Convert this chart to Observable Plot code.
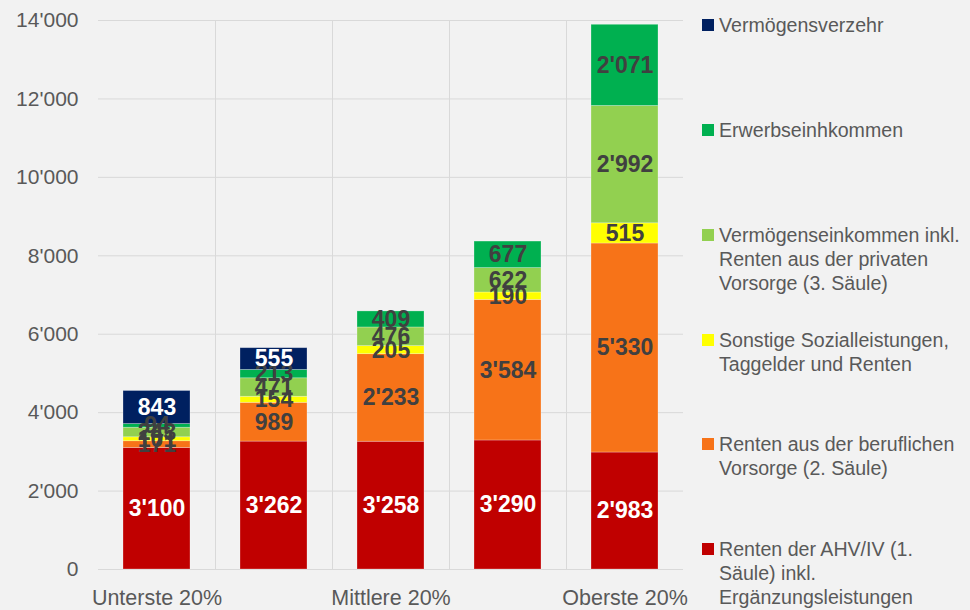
<!DOCTYPE html>
<html>
<head>
<meta charset="utf-8">
<script src="https://cdn.jsdelivr.net/npm/d3@7"></script>
<script src="https://cdn.jsdelivr.net/npm/@observablehq/plot@0.6"></script>
<style>
  html, body { margin: 0; padding: 0; background: #f2f2f2; }
  #wrap { position: relative; width: 970px; height: 610px; background: #f2f2f2; font-family: "Liberation Sans", Arial, Helvetica, sans-serif; }
  #chart { position: absolute; left: 0; top: 0; }
  .leg { position: absolute; left: 702px; color: #595959; font-size: 19.6px; line-height: 24px; white-space: nowrap; }
  .leg .sw { position: absolute; left: 0; top: 6px; width: 12px; height: 12px; }
  .leg .tx { position: absolute; left: 17px; top: 0; }
</style>
</head>
<body>
<div id="wrap"><div id="chart"></div></div>
<script>
const categories = ["Unterste 20%", "Zweite 20%", "Mittlere 20%", "Vierte 20%", "Oberste 20%"];
const shownTicks = ["Unterste 20%", "Mittlere 20%", "Oberste 20%"];

const seriesNames = [
  "Renten der AHV/IV (1. Säule) inkl. Ergänzungsleistungen",
  "Renten aus der beruflichen Vorsorge (2. Säule)",
  "Sonstige Sozialleistungen, Taggelder und Renten",
  "Vermögenseinkommen inkl. Renten aus der privaten Vorsorge (3. Säule)",
  "Erwerbseinhkommen",
  "Vermögensverzehr"
];
const legendLines = [
  ["Renten der AHV/IV (1.", "Säule) inkl.", "Ergänzungsleistungen"],
  ["Renten aus der beruflichen", "Vorsorge (2. Säule)"],
  ["Sonstige Sozialleistungen,", "Taggelder und Renten"],
  ["Vermögenseinkommen inkl.", "Renten aus der privaten", "Vorsorge (3. Säule)"],
  ["Erwerbseinhkommen"],
  ["Vermögensverzehr"]
];
const seriesColors = ["#c00000", "#f77318", "#ffff00", "#92d050", "#00b050", "#002060"];
const labelColors = ["#ffffff", "#404040", "#404040", "#404040", "#404040", "#ffffff"];

const ahv       = [3100, 3262, 3258, 3290, 2983];
const bv        = [171, 989, 2233, 3584, 5330];
const sonstige  = [101, 154, 205, 190, 515];
const vermEink  = [243, 471, 476, 622, 2992];
const erwerb    = [94, 213, 409, 677, 2071];
const verzehr   = [843, 555, null, null, null];
const seriesValues = [ahv, bv, sonstige, vermEink, erwerb, verzehr];

const yTicks = [0, 2000, 4000, 6000, 8000, 10000, 12000, 14000];

const locale = d3.formatLocale({decimal: ".", thousands: "'", grouping: [3], currency: ["", ""]});
const fmt = locale.format(",d");

const data = [];
seriesNames.forEach((s, si) => {
  categories.forEach((c, ci) => {
    const v = seriesValues[si][ci];
    if (v != null) data.push({category: c, series: s, value: v, si});
  });
});

const W = 690, H = 610, ML = 98, MR = 7, MT = 20, MB = 41;
const step = (W - ML - MR) / categories.length;

const plot = Plot.plot({
  width: W,
  height: H,
  marginLeft: ML,
  marginRight: MR,
  marginTop: MT,
  marginBottom: MB,
  style: {background: "transparent", fontFamily: "'Liberation Sans', Arial, Helvetica, sans-serif", color: "#595959"},
  x: {domain: categories, paddingInner: 0.427, paddingOuter: 0.2135, label: null, ticks: shownTicks, tickSize: 0, tickPadding: 20},
  y: {domain: [0, 14000], ticks: yTicks, tickFormat: fmt, label: null, tickSize: 0, tickPadding: 20},
  color: {domain: seriesNames, range: seriesColors},
  marks: [
    Plot.ruleY(yTicks, {stroke: "#d9d9d9", strokeWidth: 1}),
    Plot.ruleX(categories.slice(0, -1), {x: d => d, dx: step / 2, stroke: "#d9d9d9", strokeWidth: 1}),
    Plot.barY(data, Plot.stackY({x: "category", y: "value", z: "series", fill: "series", order: seriesNames, stroke: "#ffffff", strokeOpacity: 0.35, strokeWidth: 0.75})),
    Plot.text(data, Plot.stackY({x: "category", y: "value", z: "series", order: seriesNames, text: d => fmt(d.value), fill: d => labelColors[d.si], fontSize: 23, fontWeight: "bold", fontFamily: "'Liberation Sans', Arial, sans-serif"}))
  ]
});
plot.querySelectorAll("[aria-label='y-axis tick label'] text").forEach(t => {
  t.style.fontSize = "21px";
  t.setAttribute("fill", "#595959");
});
plot.querySelectorAll("[aria-label='x-axis tick label'] text").forEach(t => {
  t.style.fontSize = "21.5px";
  t.setAttribute("fill", "#595959");
});
document.getElementById("chart").appendChild(plot);

// legend (top to bottom = reversed stack order)
const wrap = document.getElementById("wrap");
const legTops = [537, 432, 328, 223, 118, 13];
seriesNames.forEach((s, i) => {
  const div = document.createElement("div");
  div.className = "leg";
  div.style.top = legTops[i] + "px";
  const sw = document.createElement("div");
  sw.className = "sw";
  sw.style.background = seriesColors[i];
  const tx = document.createElement("div");
  tx.className = "tx";
  tx.innerHTML = legendLines[i].join("<br>");
  div.appendChild(sw);
  div.appendChild(tx);
  wrap.appendChild(div);
});
</script>
</body>
</html>
